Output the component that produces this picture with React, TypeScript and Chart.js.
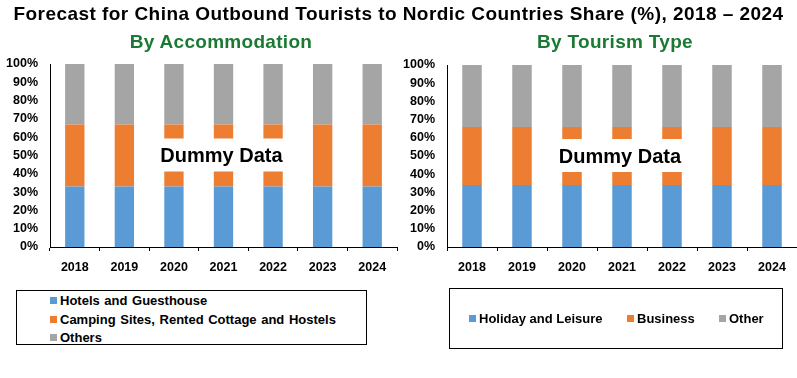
import React, { useEffect, useRef } from "react";
import { Chart, registerables } from "chart.js";

Chart.register(...registerables);

const FONT = "'Liberation Sans', Arial, sans-serif";

const years = ["2018", "2019", "2020", "2021", "2022", "2023", "2024"];

const accHotels = [33, 33, 33, 33, 33, 33, 33];
const accCamping = [34, 34, 34, 34, 34, 34, 34];
const accOthers = [33, 33, 33, 33, 33, 33, 33];

const typeHoliday = [34, 34, 34, 34, 34, 34, 34];
const typeBusiness = [32, 32, 32, 32, 32, 32, 32];
const typeOther = [34, 34, 34, 34, 34, 34, 34];

const accLabels = ["Hotels and Guesthouse", "Camping Sites, Rented Cottage and Hostels", "Others"];
const typeLabels = ["Holiday and Leisure", "Business", "Other"];

const COLORS = ["#5B9BD5", "#ED7D31", "#A5A5A5"];

const dummyPlugin = {
  id: "dummy",
  afterDatasetsDraw(chart: any) {
    const { ctx, chartArea, scales } = chart;
    const cx = (chartArea.left + chartArea.right) / 2 - 2;
    const cy = scales.y.getPixelForValue(50);
    ctx.save();
    ctx.font = `bold 20px ${FONT}`;
    const w = ctx.measureText("Dummy Data").width;
    ctx.fillStyle = "#ffffff";
    ctx.fillRect(cx - w / 2 - 14, cy - 17, w + 28, 33);
    ctx.fillStyle = "#000000";
    ctx.textAlign = "center";
    ctx.textBaseline = "middle";
    ctx.fillText("Dummy Data", cx, cy + 1);
    ctx.restore();
  },
};

function StackChart(props: { left: number; padRight: number; padTop: number; series: number[][]; labels: string[] }) {
  const ref = useRef<HTMLCanvasElement>(null);
  useEffect(() => {
    if (!ref.current) return;
    const tickFont = { family: FONT, size: 12.5, weight: "bold" as const };
    const chart = new Chart(ref.current, {
      type: "bar",
      data: {
        labels: years,
        datasets: props.series.map((d, i) => ({
          label: props.labels[i],
          data: d,
          backgroundColor: COLORS[i],
          borderWidth: 0,
          categoryPercentage: 1,
          barPercentage: 0.39,
        })),
      },
      options: {
        responsive: false,
        animation: false,
        layout: { padding: { top: props.padTop, right: props.padRight, left: 0, bottom: 0 } },
        plugins: { legend: { display: false }, tooltip: { enabled: false }, title: { display: false } },
        scales: {
          x: {
            stacked: true,
            grid: { display: true, drawOnChartArea: false, drawTicks: true, tickLength: 4, color: "#000", offset: true },
            border: { display: true, color: "#000", width: 1 },
            ticks: { color: "#000", font: tickFont, padding: 9, maxRotation: 0, autoSkip: false },
            afterFit: (s: any) => {
              s.height = 43;
            },
          },
          y: {
            stacked: true,
            min: 0,
            max: 100,
            grid: { display: false, drawTicks: false },
            border: { display: true, color: "#000", width: 1 },
            ticks: { stepSize: 10, color: "#000", font: tickFont, padding: 12, callback: (v: any) => v + "%" },
            afterFit: (s: any) => {
              s.width = 50;
            },
          },
        },
      },
      plugins: [dummyPlugin],
    });
    return () => chart.destroy();
  }, []);
  return (
    <canvas
      ref={ref}
      width={400}
      height={290}
      style={{ position: "absolute", left: props.left, top: 0, width: 400, height: 290 }}
    />
  );
}

const Swatch = ({ color }: { color: string }) => (
  <span style={{ display: "inline-block", width: 7, height: 7, background: color, marginRight: 3, verticalAlign: "middle", position: "relative", top: -1 }} />
);

export default function App() {
  const textBase: React.CSSProperties = { position: "absolute", fontFamily: FONT, fontWeight: "bold", whiteSpace: "nowrap" };
  return (
    <div style={{ position: "absolute", left: 0, top: 0, width: 797, height: 378, background: "#fff", overflow: "hidden" }}>
      <StackChart left={0} padRight={3} padTop={64} series={[accHotels, accCamping, accOthers]} labels={accLabels} />
      <StackChart left={397} padRight={0} padTop={65} series={[typeHoliday, typeBusiness, typeOther]} labels={typeLabels} />
      <div style={{ ...textBase, left: 0, width: 797, top: 2, textAlign: "center", fontSize: 19, letterSpacing: 0.45, color: "#000", lineHeight: "23px" }}>
        Forecast for China Outbound Tourists to Nordic Countries Share (%), 2018 – 2024
      </div>
      <div style={{ ...textBase, left: 121, width: 200, top: 30, textAlign: "center", fontSize: 19, letterSpacing: 0.3, color: "#1A7A34", lineHeight: "23px" }}>
        By Accommodation
      </div>
      <div style={{ ...textBase, left: 515, width: 200, top: 30, textAlign: "center", fontSize: 19, letterSpacing: 0.3, color: "#1A7A34", lineHeight: "23px" }}>
        By Tourism Type
      </div>
      <div style={{ position: "absolute", left: 16, top: 290, width: 349, height: 53, border: "1px solid #000", boxSizing: "content-box" }}>
        {accLabels.map((l, i) => (
          <div key={l} style={{ ...textBase, left: 33, top: 2 + i * 18.5, fontSize: 13, wordSpacing: 1, lineHeight: "16px", color: "#000" }}>
            <Swatch color={COLORS[i]} />
            {l}
          </div>
        ))}
      </div>
      <div style={{ position: "absolute", left: 449, top: 288, width: 332, height: 59, border: "1px solid #000", boxSizing: "content-box" }}>
        {typeLabels.map((l, i) => (
          <div key={l} style={{ ...textBase, left: [19, 177, 269][i], top: 22, fontSize: 13, lineHeight: "16px", color: "#000" }}>
            <Swatch color={COLORS[i]} />
            {l}
          </div>
        ))}
      </div>
    </div>
  );
}
